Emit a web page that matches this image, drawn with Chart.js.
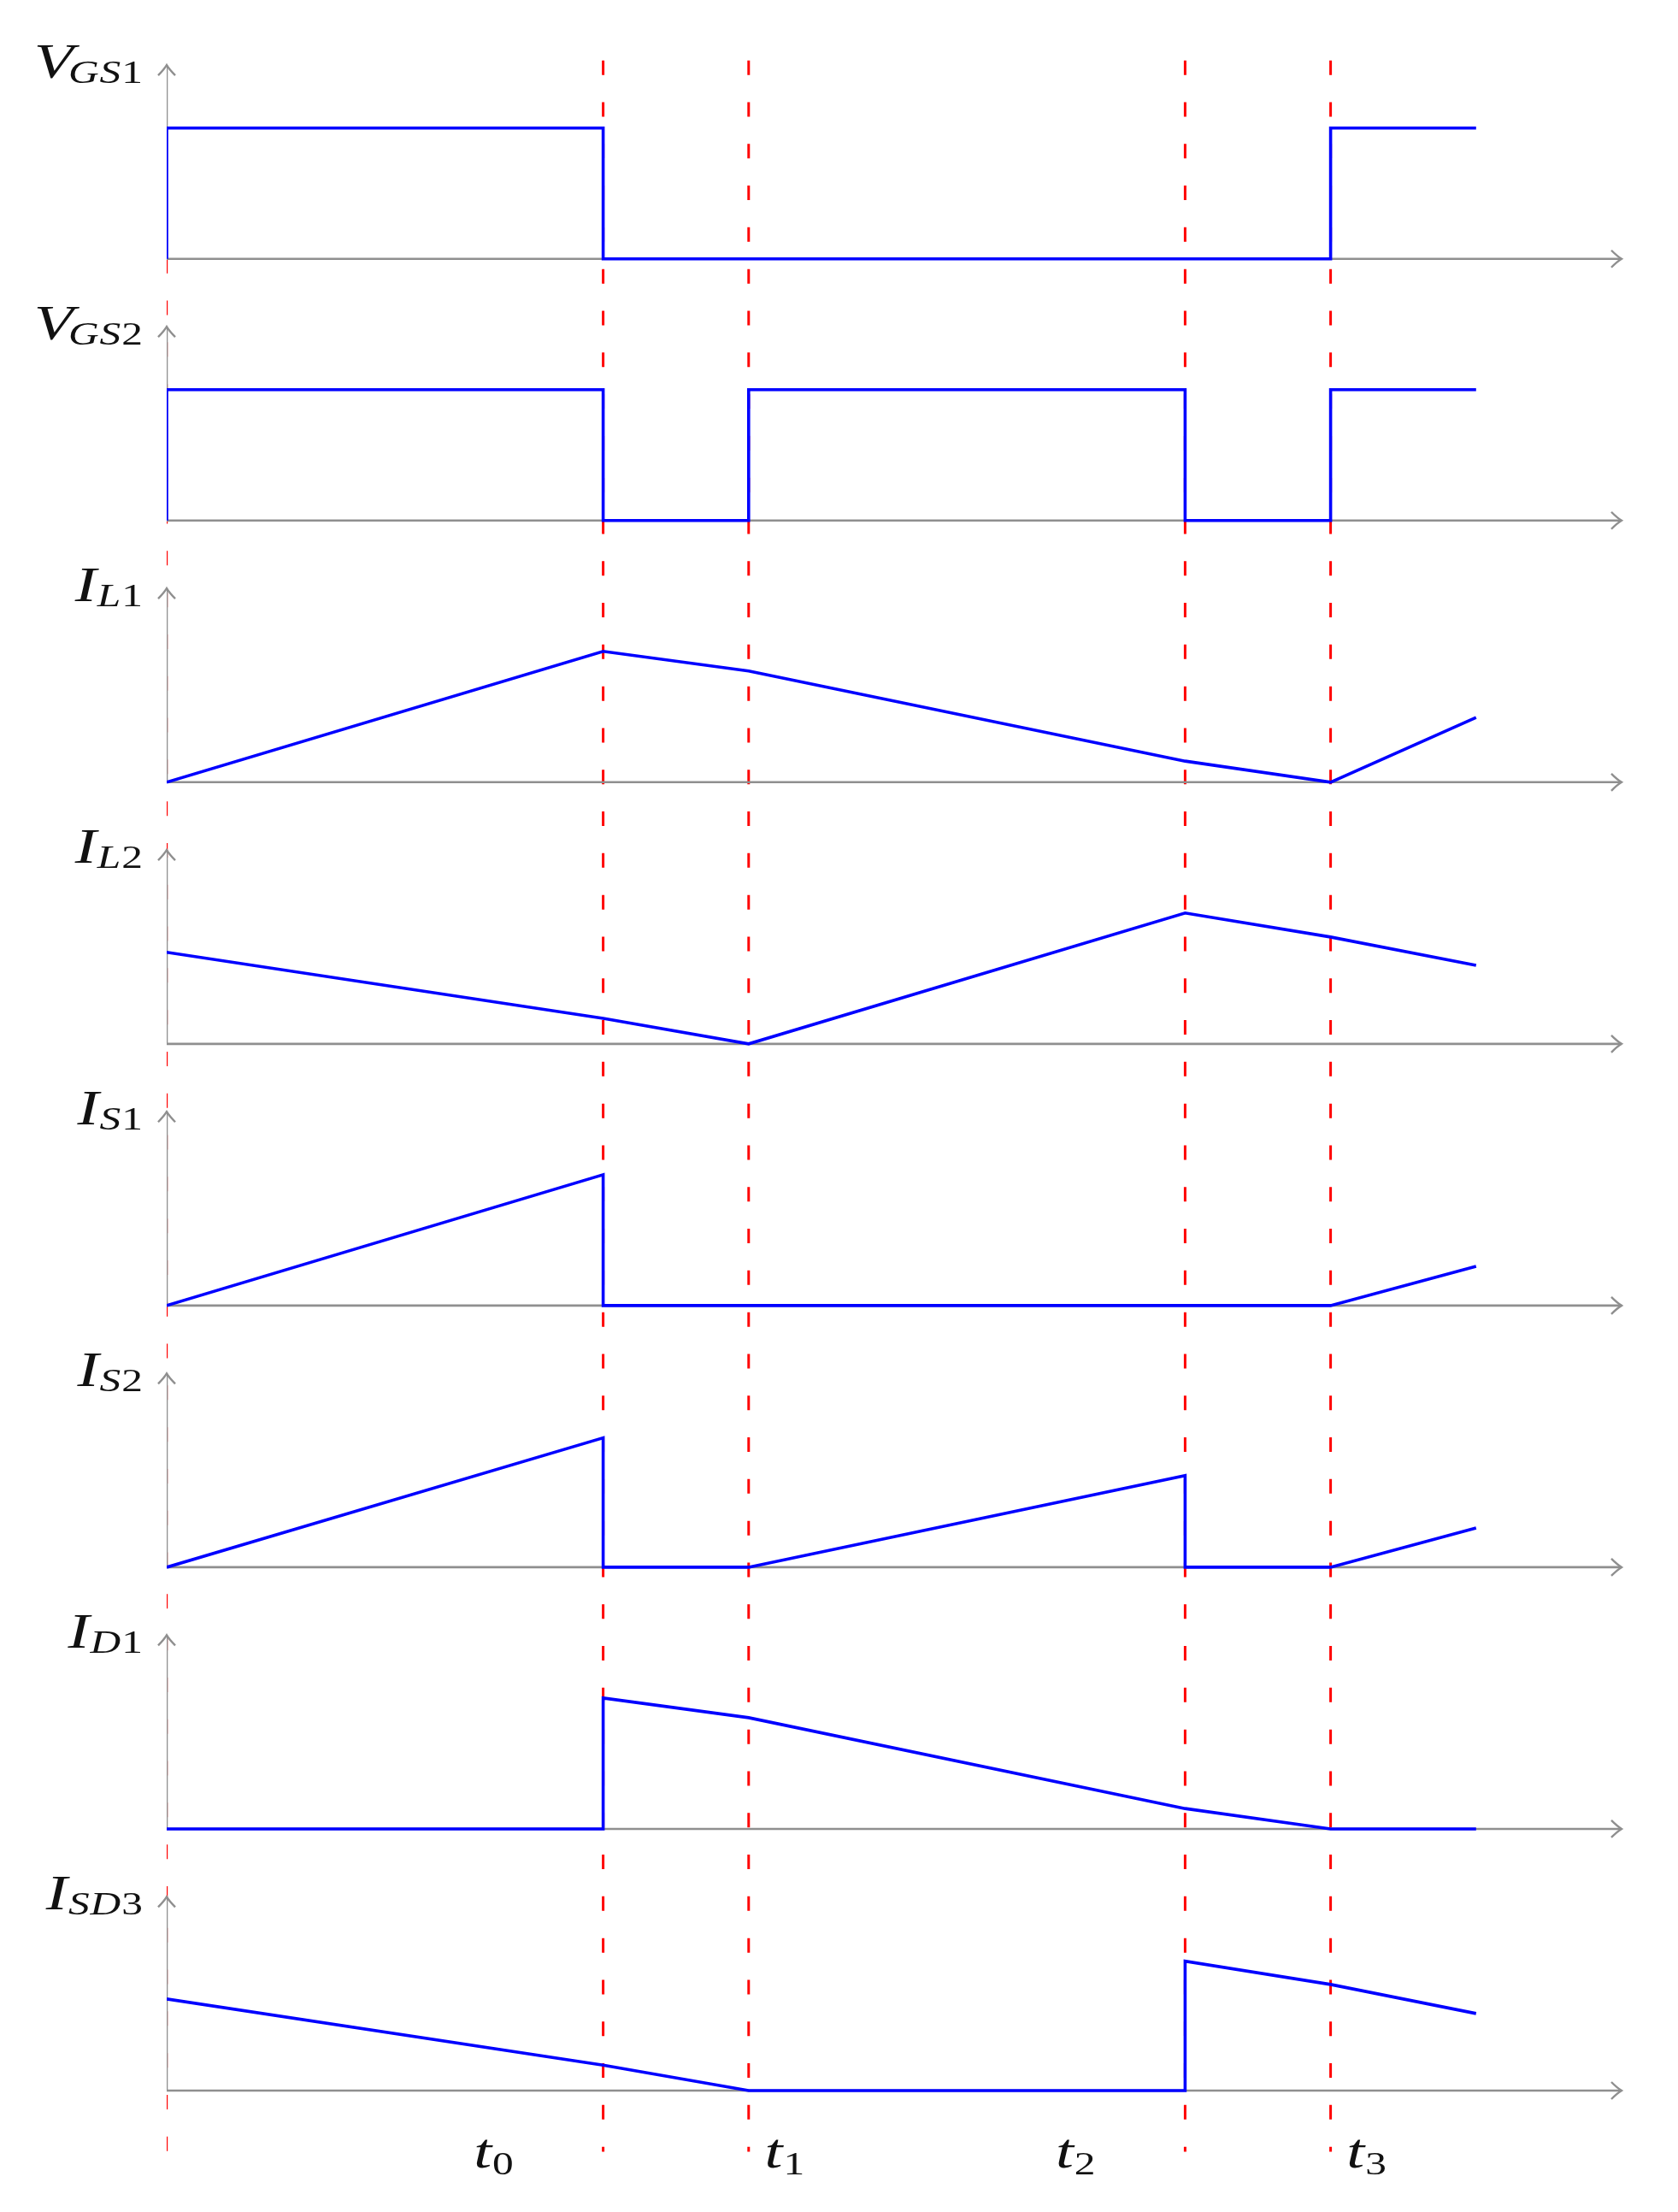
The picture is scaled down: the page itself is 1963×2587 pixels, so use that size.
<!DOCTYPE html>
<html>
<head>
<meta charset="utf-8">
<script src="https://cdn.jsdelivr.net/npm/chart.js"></script>
<style>
  html, body { margin: 0; padding: 0; background: #fff; }
  #wrap { width: 1963px; height: 2587px; position: relative; }
</style>
</head>
<body>
<div id="wrap"><canvas id="chartCanvas"></canvas></div>
<script>
// switching instants (red dashed lines) and t labels under the plot
const switchTimes = [3, 4, 7, 8];
const tSubs = ['0', '1', '2', '3'];
const tLabelAt = [2.25, 4.25, 6.25, 8.25];

// panel names: [letter, subscript]
const signalNames = [['V', 'GS1'], ['V', 'GS2'], ['I', 'L1'], ['I', 'L2'],
                     ['I', 'S1'], ['I', 'S2'], ['I', 'D1'], ['I', 'SD3']];

// waveforms (time, level)
const vgs1T = [0, 0, 3, 3, 8, 8, 9];
const vgs1V = [0, 0.9, 0.9, 0, 0, 0.9, 0.9];
const vgs2T = [0, 0, 3, 3, 4, 4, 7, 7, 8, 8, 9];
const vgs2V = [0, 0.9, 0.9, 0, 0, 0.9, 0.9, 0, 0, 0.9, 0.9];
const il1T = [0, 3, 4, 7, 8, 9];
const il1V = [0, 0.9, 0.765, 0.145, 0, 0.445];
const il2T = [0, 3, 4, 7, 8, 9];
const il2V = [0.63, 0.175, 0, 0.9, 0.735, 0.54];
const is1T = [0, 3, 3, 8, 9];
const is1V = [0, 0.9, 0, 0, 0.27];
const is2T = [0, 3, 3, 4, 7, 7, 8, 9];
const is2V = [0, 0.89, 0, 0, 0.63, 0, 0, 0.27];
const id1T = [0, 3, 3, 4, 7, 8, 9];
const id1V = [0, 0, 0.9, 0.765, 0.14, 0, 0];
const isd3T = [0, 3, 4, 7, 7, 8, 9];
const isd3V = [0.63, 0.175, 0, 0, 0.89, 0.73, 0.53];

const waves = [[vgs1T, vgs1V], [vgs2T, vgs2V], [il1T, il1V], [il2T, il2V],
               [is1T, is1V], [is2T, is2V], [id1T, id1V], [isd3T, isd3V]];

const PANEL_GAP = 1.8;   // vertical distance between panel baselines
const ARROW_H = 1.333;   // height of each y axis
const X_MAX = 10;
const GRAY = '#8f8f8f';
const BLUE = '#0000ff';
const RED = '#ff0000';
const FONT = '"Liberation Serif", "DejaVu Serif", serif';
const STRETCH = 1.3;     // the TeX letters are wider than Times

const datasets = [];

// blue waveforms, each shifted down to its own panel
waves.forEach(([ts, vs], i) => {
  datasets.push({
    data: ts.map((t, k) => ({ x: t, y: vs[k] - i * PANEL_GAP })),
    borderColor: BLUE, borderWidth: 3.6, order: 0
  });
});

// gray axes
signalNames.forEach((_, i) => {
  const base = -i * PANEL_GAP;
  datasets.push({
    data: [{ x: 0, y: base + ARROW_H }, { x: 0, y: base }, { x: X_MAX, y: base }],
    borderColor: GRAY, borderWidth: 2.6, order: 1
  });
});

// red dashed lines (the one at t=0 starts at the first baseline)
const dashBottom = -7 * PANEL_GAP - 0.42;
[0, ...switchTimes].forEach(t => {
  datasets.push({
    data: [{ x: t, y: t === 0 ? 0 : 1.365 }, { x: t, y: dashBottom }],
    borderColor: RED, borderWidth: t === 0 ? 2.4 : 3, borderDash: [17, 31.8], order: 2
  });
});

function putText(ctx, s, font, x, y) {
  ctx.save();
  ctx.font = font;
  ctx.translate(x, y);
  ctx.scale(STRETCH, 1);
  ctx.fillText(s, 0, 0);
  ctx.restore();
  ctx.font = font;
  return ctx.measureText(s).width * STRETCH;
}

function drawMath(ctx, main, sub, xAnchor, baseY, align, subDrop) {
  const mainFont = 'italic 58px ' + FONT;
  const parts = sub.split('').map(c => ({
    c, font: (/\d/.test(c) ? '' : 'italic ') + '38px ' + FONT
  }));
  ctx.font = mainFont;
  const wMain = ctx.measureText(main).width * STRETCH;
  let wSub = 0;
  parts.forEach(p => { ctx.font = p.font; p.w = ctx.measureText(p.c).width * STRETCH + 1; wSub += p.w; });
  const kern = main === 'V' ? -6 : 1;
  const total = wMain + kern + wSub;
  let xs = align === 'right' ? xAnchor - total : xAnchor - total / 2;
  ctx.fillStyle = '#111';
  ctx.textAlign = 'left';
  ctx.textBaseline = 'alphabetic';
  putText(ctx, main, mainFont, xs, baseY);
  xs += wMain + kern;
  parts.forEach(p => { putText(ctx, p.c, p.font, xs, baseY + subDrop); xs += p.w; });
}

const labelsPlugin = {
  id: 'mathLabels',
  afterDraw(chart) {
    const { ctx, scales: { x, y } } = chart;
    ctx.save();
    ctx.strokeStyle = GRAY;
    ctx.lineWidth = 2.4;
    signalNames.forEach((nm, i) => {
      const base = -i * PANEL_GAP;
      const x0 = x.getPixelForValue(0);
      const xr = x.getPixelForValue(X_MAX);
      const yb = y.getPixelForValue(base);
      const yt = y.getPixelForValue(base + ARROW_H);
      // arrow tips
      ctx.beginPath();
      ctx.moveTo(x0 - 10, yt + 12);
      ctx.quadraticCurveTo(x0 - 3, yt + 5, x0, yt);
      ctx.quadraticCurveTo(x0 + 3, yt + 5, x0 + 10, yt + 12);
      ctx.stroke();
      ctx.beginPath();
      ctx.moveTo(xr - 12, yb - 10);
      ctx.quadraticCurveTo(xr - 5, yb - 3, xr, yb);
      ctx.quadraticCurveTo(xr - 5, yb + 3, xr - 12, yb + 10);
      ctx.stroke();
      drawMath(ctx, nm[0], nm[1], x0 - 27, yt + 15, 'right', 6);
    });
    const yLab = y.getPixelForValue(dashBottom) + 19;
    tSubs.forEach((s, k) => drawMath(ctx, 't', s, x.getPixelForValue(tLabelAt[k]), yLab, 'center', 8));
    ctx.restore();
  }
};

const ctx = document.getElementById('chartCanvas').getContext('2d');
new Chart(ctx, {
  type: 'line',
  data: { datasets },
  options: {
    responsive: true,
    maintainAspectRatio: false,
    animation: false,
    layout: { padding: { left: 195, right: 66, top: 47.7, bottom: 40 } },
    scales: {
      x: { type: 'linear', min: 0, max: X_MAX, display: false },
      y: { type: 'linear', min: -13.2, max: 1.5, display: false }
    },
    plugins: { legend: { display: false }, tooltip: { enabled: false } },
    elements: { point: { radius: 0 }, line: { tension: 0, borderJoinStyle: 'miter' } }
  },
  plugins: [labelsPlugin]
});
</script>
</body>
</html>
